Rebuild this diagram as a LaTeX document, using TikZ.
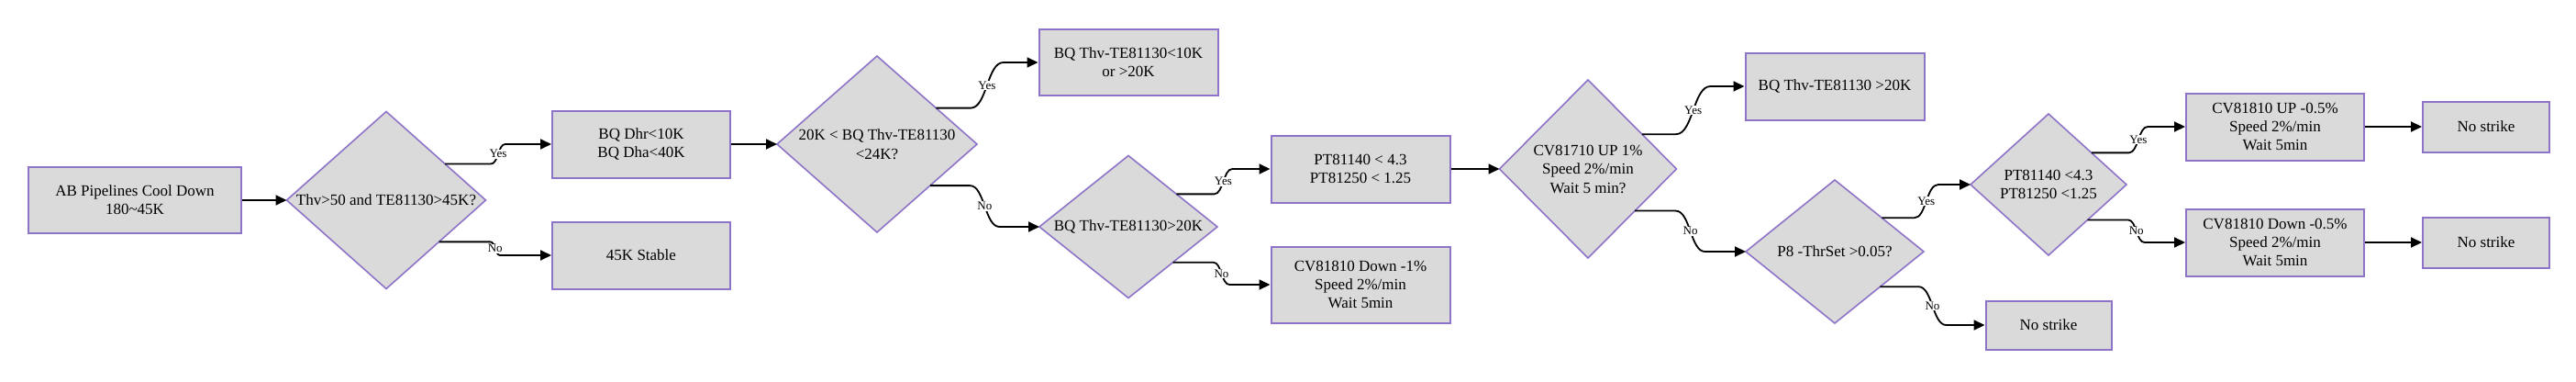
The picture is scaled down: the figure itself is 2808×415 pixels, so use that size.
\documentclass[tikz,border=0pt]{standalone}
\usepackage{fontspec}
\setmainfont{Liberation Serif}
\usetikzlibrary{shapes.geometric,arrows.meta,calc}
\definecolor{bordercol}{RGB}{142,116,200}
\definecolor{fillcol}{RGB}{218,218,218}
\begin{document}
\begin{tikzpicture}[x=1pt,y=-1pt,
  box/.style={draw=bordercol,fill=fillcol,line width=2pt,align=center,inner sep=0pt,
    font=\fontsize{17}{20}\selectfont},
  dia/.style={diamond,draw=bordercol,fill=fillcol,line width=1.6pt,inner sep=0pt,outer sep=0pt},
  dtext/.style={align=center,inner sep=0pt,font=\fontsize{17}{20.5}\selectfont},
  lbl/.style={fill=white,inner sep=0.8pt,font=\fontsize{13}{14}\selectfont},
  arr/.style={draw=black,line width=1.8pt,-{Triangle[length=12pt,width=11pt]}},
  scurve/.style={to path={let \p1=(\tikztostart), \p2=(\tikztotarget),
      \n1={0.5*(\x1+\x2)}, \n2={0.36*abs(\y2-\y1)} in
      -- ({(\n1-\n2)*1pt},\y1) .. controls ({\n1*1pt},\y1) and ({\n1*1pt},\y2) ..
      ({(\n1+\n2)*1pt},\y2) node[lbl,pos=0.5]{#1} -- (\tikztotarget)}}
]
\useasboundingbox (0,0) rectangle (2808,415);

% boxes
\node[box,minimum width=232pt,minimum height=72pt] (b1) at (147,218) {AB Pipelines Cool Down\\180\textasciitilde45K};
\node[box,minimum width=194pt,minimum height=73pt] (b2) at (699,157) {BQ Dhr<10K\\BQ Dha<40K};
\node[box,minimum width=194pt,minimum height=73pt] (b3) at (699,278) {45K Stable};
\node[box,minimum width=195pt,minimum height=72pt] (b4) at (1230,68) {BQ Thv-TE81130<10K\\or >20K};
\node[box,minimum width=195pt,minimum height=73pt] (b5) at (1483,184) {PT81140 < 4.3\\PT81250 < 1.25};
\node[box,minimum width=195pt,minimum height=83pt] (b6) at (1483,310) {CV81810 Down -1\%\\Speed 2\%/min\\Wait 5min};
\node[box,minimum width=195pt,minimum height=73pt] (b7) at (2000,94) {BQ Thv-TE81130 >20K};
\node[box,minimum width=137pt,minimum height=53pt] (b8) at (2233,354) {No strike};
\node[box,minimum width=194pt,minimum height=73pt] (b9) at (2480,138) {CV81810 UP -0.5\%\\Speed 2\%/min\\Wait 5min};
\node[box,minimum width=194pt,minimum height=73pt] (b10) at (2480,264) {CV81810 Down -0.5\%\\Speed 2\%/min\\Wait 5min};
\node[box,minimum width=138pt,minimum height=55pt] (b11) at (2710,138) {No strike};
\node[box,minimum width=138pt,minimum height=55pt] (b12) at (2710,264) {No strike};

% diamonds
\node[dia,minimum width=217pt,minimum height=193pt] (d1) at (421,218) {};
\node[dtext] (d1t) at (d1.center) {Thv>50 and TE81130>45K?};
\node[dia,minimum width=218pt,minimum height=192pt] (d2) at (956,157) {};
\node[dtext] (d2t) at (d2.center) {20K < BQ Thv-TE81130\\<24K?};
\node[dia,minimum width=194pt,minimum height=155pt] (d3) at (1230,247) {};
\node[dtext] (d3t) at (d3.center) {BQ Thv-TE81130>20K};
\node[dia,minimum width=193pt,minimum height=194pt] (d4) at (1731,184) {};
\node[dtext] (d4t) at (d4.center) {CV81710 UP 1\%\\Speed 2\%/min\\Wait 5 min?};
\node[dia,minimum width=194pt,minimum height=156pt] (d5) at (2000,274) {};
\node[dtext] (d5t) at (d5.center) {P8 -ThrSet >0.05?};
\node[dia,minimum width=170pt,minimum height=154pt] (d6) at (2233,201) {};
\node[dtext] (d6t) at (d6.center) {PT81140 <4.3\\PT81250 <1.25};

% exit points on diamond edges
\coordinate (d1y) at ($(d1.east)!0.41!(d1.north)$);
\coordinate (d1n) at ($(d1.east)!0.47!(d1.south)$);
\coordinate (d2y) at ($(d2.east)!0.41!(d2.north)$);
\coordinate (d2n) at ($(d2.east)!0.47!(d2.south)$);
\coordinate (d3y) at ($(d3.east)!0.46!(d3.north)$);
\coordinate (d3n) at ($(d3.east)!0.50!(d3.south)$);
\coordinate (d4y) at ($(d4.east)!0.39!(d4.north)$);
\coordinate (d4n) at ($(d4.east)!0.47!(d4.south)$);
\coordinate (d5y) at ($(d5.east)!0.47!(d5.north)$);
\coordinate (d5n) at ($(d5.east)!0.49!(d5.south)$);
\coordinate (d6y) at ($(d6.east)!0.45!(d6.north)$);
\coordinate (d6n) at ($(d6.east)!0.50!(d6.south)$);

% connectors
\draw[arr] (b1.east) -- (d1.west);
\draw[arr] (d1y) to[scurve=Yes] (b2.west);
\draw[arr] (d1n) to[scurve=No] (b3.west);
\draw[arr] (b2.east) -- (d2.west);
\draw[arr] (d2y) to[scurve=Yes] (b4.west);
\draw[arr] (d2n) to[scurve=No] (d3.west);
\draw[arr] (d3y) to[scurve=Yes] (b5.west);
\draw[arr] (d3n) to[scurve=No] (b6.west);
\draw[arr] (b5.east) -- (d4.west);
\draw[arr] (d4y) to[scurve=Yes] (b7.west);
\draw[arr] (d4n) to[scurve=No] (d5.west);
\draw[arr] (d5y) to[scurve=Yes] (d6.west);
\draw[arr] (d5n) to[scurve=No] (b8.west);
\draw[arr] (d6y) to[scurve=Yes] (b9.west);
\draw[arr] (d6n) to[scurve=No] (b10.west);
\draw[arr] (b9.east) -- (b11.west);
\draw[arr] (b10.east) -- (b12.west);
\end{tikzpicture}
\end{document}
